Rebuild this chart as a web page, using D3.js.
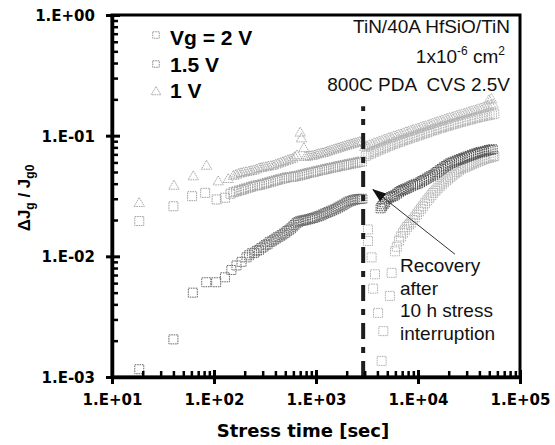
<!DOCTYPE html>
<html>
<head>
<meta charset="utf-8">
<script src="https://cdn.jsdelivr.net/npm/d3@7"></script>
<style>
  html, body { margin: 0; padding: 0; background: #fff; }
  svg { display: block; }
</style>
</head>
<body>
<svg id="chart" width="555" height="445"></svg>
<script>
// ---- axis ticks ----
const xTickValues = [1e1, 1e2, 1e3, 1e4, 1e5];
const xTickLabels = ["1.E+01", "1.E+02", "1.E+03", "1.E+04", "1.E+05"];
const yTickValues = [1e-3, 1e-2, 1e-1, 1e0];
const yTickLabels = ["1.E-03", "1.E-02", "1.E-01", "1.E+00"];

// ---- first stress period (before the 10 h interruption) ----
// Vg = 2 V
const time2V = [18.5, 40, 62, 84, 105, 128, 148, 166, 186,
  208, 220, 235, 248, 262, 276, 290, 305, 320, 335, 350, 367, 385, 402, 420, 440, 460, 480, 500, 522,
  545, 567, 590, 615, 640, 665, 690, 717, 745, 772, 800, 835, 870, 905, 940, 980, 1020, 1065, 1110, 1160,
  1210, 1265, 1320, 1380, 1440, 1505, 1570, 1640, 1710, 1785, 1860, 1945, 2030, 2120, 2210, 2300, 2400, 2510, 2620, 2730, 2850];
const dj2V = [1.16e-3, 2.05e-3, 5.0e-3, 6.1e-3, 6.1e-3, 6.7e-3, 7.7e-3, 8.4e-3, 9.0e-3,
  9.8e-3, 1.02e-2, 1.06e-2, 1.07e-2, 1.11e-2, 1.13e-2, 1.17e-2, 1.20e-2, 1.24e-2, 1.26e-2, 1.31e-2, 1.33e-2, 1.37e-2, 1.40e-2, 1.44e-2, 1.46e-2, 1.50e-2, 1.54e-2, 1.57e-2, 1.62e-2,
  1.66e-2, 1.70e-2, 1.76e-2, 1.82e-2, 1.88e-2, 1.92e-2, 1.95e-2, 1.97e-2, 1.98e-2, 1.99e-2, 2.01e-2, 2.02e-2, 2.04e-2, 2.06e-2, 2.08e-2, 2.10e-2, 2.13e-2, 2.15e-2, 2.18e-2, 2.22e-2,
  2.26e-2, 2.29e-2, 2.33e-2, 2.36e-2, 2.40e-2, 2.44e-2, 2.48e-2, 2.53e-2, 2.58e-2, 2.63e-2, 2.68e-2, 2.74e-2, 2.80e-2, 2.85e-2, 2.88e-2, 2.92e-2, 2.95e-2, 2.97e-2, 2.98e-2, 2.99e-2, 3.0e-2];

// Vg = 1.5 V
const time15V = [18.5, 40, 61, 82, 106, 128,
  145, 155, 165, 175, 185, 195, 205, 216, 228, 240, 252, 266, 280, 295, 310, 327, 345, 362, 380, 400,
  420, 442, 465, 490, 515, 542, 570, 600, 630, 665, 700, 735, 770, 810, 850, 895, 940, 990, 1040, 1095,
  1150, 1210, 1270, 1335, 1400, 1475, 1550, 1630, 1710, 1800, 1890, 1990, 2090, 2200, 2310, 2430, 2550, 2680, 2820];
const dj15V = [0.0196, 0.026, 0.0315, 0.0336, 0.0296, 0.0306,
  0.033, 0.034, 0.0345, 0.035, 0.0355, 0.036, 0.0365, 0.037, 0.0375, 0.038, 0.0385, 0.0388, 0.039, 0.0395, 0.040, 0.0405, 0.041, 0.0415, 0.042, 0.0425,
  0.043, 0.0435, 0.044, 0.0445, 0.045, 0.0452, 0.0455, 0.0458, 0.046, 0.0465, 0.047, 0.0475, 0.048, 0.0485, 0.049, 0.0495, 0.050, 0.0505, 0.051, 0.0515,
  0.052, 0.0525, 0.053, 0.0535, 0.054, 0.0545, 0.055, 0.0555, 0.056, 0.0565, 0.057, 0.0575, 0.058, 0.0585, 0.059, 0.0595, 0.060, 0.0605, 0.061];

// Vg = 1 V
const time1V = [18.5, 40.5, 62.7, 84.5, 110, 138,
  155, 165, 175, 185, 195, 207, 220, 232, 245, 260, 275, 290, 305, 322, 340, 360, 380, 402, 425, 450,
  475, 502, 530, 560, 590, 620, 650, 700, 720, 760, 790, 830, 870, 915, 960, 1010, 1060, 1115, 1170, 1230,
  1290, 1355, 1420, 1495, 1570, 1650, 1730, 1820, 1910, 2005, 2100, 2210, 2320, 2440, 2560, 2690, 2830];
const dj1V = [0.0274, 0.0381, 0.0456, 0.0558, 0.0414, 0.0433,
  0.046, 0.047, 0.048, 0.0485, 0.049, 0.0495, 0.050, 0.0505, 0.051, 0.052, 0.053, 0.0535, 0.054, 0.0545, 0.055, 0.0555, 0.056, 0.057, 0.058, 0.059,
  0.060, 0.061, 0.062, 0.063, 0.064, 0.066, 0.068, 0.105, 0.094, 0.078, 0.066, 0.0665, 0.067, 0.0675, 0.068, 0.069, 0.070, 0.0705, 0.071, 0.072,
  0.073, 0.074, 0.075, 0.076, 0.077, 0.078, 0.079, 0.080, 0.081, 0.082, 0.083, 0.084, 0.085, 0.086, 0.087, 0.088, 0.089];

// ---- second stress period (after recovery) ----
const time1VPost = [3000, 3170, 3350, 3540, 3740, 3950, 4170, 4400, 4650, 4910, 5190, 5480, 5790, 6120, 6460,
  6830, 7210, 7620, 8050, 8500, 8980, 9490, 10000, 10600, 11200, 11800, 12500, 13200, 13900, 14700,
  15500, 16400, 17300, 18300, 19300, 20400, 21600, 22800, 24000, 25400, 26800, 28300, 29900, 31600, 33400,
  35200, 37200, 39300, 41500, 43900, 46300, 48900, 51700, 54600, 49500, 52500];
const dj1VPost = [0.080, 0.081, 0.083, 0.084, 0.086, 0.087, 0.089, 0.090, 0.092, 0.093, 0.095, 0.096, 0.098, 0.099, 0.101,
  0.102, 0.104, 0.106, 0.107, 0.109, 0.111, 0.112, 0.114, 0.116, 0.118, 0.119, 0.121, 0.123, 0.125, 0.127,
  0.129, 0.131, 0.133, 0.135, 0.137, 0.139, 0.141, 0.143, 0.145, 0.147, 0.149, 0.151, 0.153, 0.156, 0.158,
  0.160, 0.162, 0.165, 0.167, 0.170, 0.172, 0.175, 0.178, 0.180, 0.195, 0.200];

const time15VPost = [3080, 3260, 3450, 3640, 3850, 4060, 4290, 4530, 4780, 5050, 5330, 5630, 5950, 6290, 6640,
  7020, 7410, 7830, 8270, 8740, 9230, 9750, 10300, 10900, 11500, 12200, 12800, 13500, 14300, 15100,
  16000, 16900, 17800, 18800, 19900, 21000, 22200, 23400, 24700, 26100, 27600, 29100, 30700, 32500, 34300,
  36200, 38200, 40400, 42700, 45100, 47600, 50300, 53100, 56000];
const dj15VPost = [0.068, 0.070, 0.071, 0.073, 0.074, 0.076, 0.077, 0.079, 0.080, 0.082, 0.083, 0.085, 0.086, 0.088, 0.089,
  0.091, 0.092, 0.094, 0.095, 0.097, 0.098, 0.100, 0.101, 0.103, 0.105, 0.106, 0.108, 0.110, 0.111, 0.113,
  0.115, 0.116, 0.118, 0.120, 0.121, 0.123, 0.125, 0.126, 0.128, 0.130, 0.131, 0.133, 0.135, 0.136, 0.138,
  0.140, 0.141, 0.143, 0.144, 0.146, 0.147, 0.149, 0.150, 0.152];

const timeMidPost = [4300, 4450, 4600, 4760, 4930, 5150, 5400, 5650, 5900, 6200, 6500, 6800, 7100, 7400, 7730,
  8100, 8500, 8950, 9400, 9900, 10460, 10950, 11500, 12100, 12700, 13300, 14000, 14700, 15400, 16200,
  17000, 17800, 18700, 19600, 20600, 21600, 22700, 23800, 25000, 26200, 27500, 28900, 30300, 31800, 33400,
  35100, 36800, 38600, 40500, 42500, 44600, 46800, 49100, 51500, 54000];
const djMidPost = [0.025, 0.026, 0.027, 0.028, 0.0296, 0.0303, 0.031, 0.0315, 0.032, 0.033, 0.034, 0.0348, 0.0355, 0.036, 0.0365,
  0.0372, 0.038, 0.0388, 0.0395, 0.040, 0.041, 0.042, 0.043, 0.044, 0.045, 0.046, 0.047, 0.0485, 0.050, 0.0515,
  0.053, 0.0545, 0.056, 0.0575, 0.059, 0.060, 0.061, 0.062, 0.063, 0.064, 0.065, 0.066, 0.067, 0.068, 0.069,
  0.070, 0.071, 0.072, 0.073, 0.0735, 0.074, 0.075, 0.076, 0.0765, 0.077];

const timeLowPost = [3230, 3230, 3510, 3630, 3790, 4060, 4400, 4570, 5300, 5520,
  5960, 6200, 6500, 6800, 7130, 7450, 7800, 8150, 8500, 8900, 9300, 9750, 10200, 10700, 11200,
  11700, 12300, 12900, 13500, 14100, 14800, 15500, 16300, 17100, 17900, 18800, 19700, 20700, 21700, 22800,
  23900, 25100, 26300, 27600, 29000, 30500, 32000, 33600, 35200, 37000, 38800, 40700, 42700, 44800, 47000,
  49300, 51700, 54200, 56000];
const djLowPost = [0.0167, 0.0134, 0.0098, 0.0054, 0.0071, 0.0034, 0.00136, 0.0024, 0.0047, 0.0073,
  0.011, 0.012, 0.0135, 0.0146, 0.0157, 0.0166, 0.0175, 0.0183, 0.019, 0.020, 0.021, 0.0222, 0.0235, 0.0248, 0.026,
  0.0275, 0.029, 0.0305, 0.032, 0.0335, 0.035, 0.0365, 0.038, 0.0395, 0.041, 0.0425, 0.044, 0.0455, 0.047, 0.0485,
  0.050, 0.0515, 0.053, 0.054, 0.055, 0.056, 0.057, 0.058, 0.059, 0.060, 0.061, 0.062, 0.063, 0.064, 0.065,
  0.0655, 0.066, 0.067, 0.068];

// stress interruption time and the recovery arrow (data coordinates)
const interruptTime = 2900;
const interruptSpan = [1e-3, 0.175];
const arrowTail = [23050, 0.0104];
const arrowTip = [3620, 0.0358];

// ---- layout ----
const svg = d3.select("#chart");
const plot = { left: 112, right: 520, top: 15, bottom: 377 };
const x = d3.scaleLog().domain([1e1, 1e5]).range([plot.left, plot.right]);
const y = d3.scaleLog().domain([1e-3, 1]).range([plot.bottom, plot.top]);

const boldTick = "'DejaVu Sans', sans-serif";
const sans = "'Liberation Sans', Arial, sans-serif";

// minor tick positions 2..9 inside each decade
const minorOf = (majors) => {
  const out = [];
  for (let i = 0; i < majors.length - 1; i++)
    for (let k = 2; k <= 9; k++) out.push(majors[i] * k);
  return out;
};

// ---- data series ----
const seriesList = [
  { key: "low",  t: timeLowPost, v: djLowPost, shape: "square" },
  { key: "s15",  t: time15V, v: dj15V, shape: "square" },
  { key: "s1",   t: time1V, v: dj1V, shape: "triangle" },
  { key: "s15p", t: time15VPost, v: dj15VPost, shape: "square" },
  { key: "s1p",  t: time1VPost, v: dj1VPost, shape: "triangle" },
  { key: "s2",   t: time2V, v: dj2V, shape: "square" },
  { key: "mid",  t: timeMidPost, v: djMidPost, shape: "square" }
];
const seriesStyle = {
  low:  { stroke: "#b0b0b0" },
  s15:  { stroke: "#a0a0a0" },
  s1:   { stroke: "#a8a8a8" },
  s15p: { stroke: "#b4b4b4" },
  s1p:  { stroke: "#b4b4b4" },
  s2:   { stroke: "#6a6a6a" },
  mid:  { stroke: "#4e4e4e" }
};
const squareSym = d3.symbol().type(d3.symbolSquare).size(81);
const triSym = d3.symbol().type(d3.symbolTriangle).size(46);

const marks = svg.append("g");
seriesList.forEach(s => {
  const pts = s.t.map((t, i) => [t, s.v[i]]);
  marks.append("g")
    .selectAll("path")
    .data(pts)
    .join("path")
    .attr("d", s.shape === "square" ? squareSym : triSym)
    .attr("transform", d => `translate(${x(d[0])},${y(d[1])})`)
    .attr("fill", "none")
    .attr("stroke", seriesStyle[s.key].stroke)
    .attr("stroke-width", 1)
    .attr("stroke-dasharray", "1.6 0.8");
});

// ---- interruption line ----
svg.append("line")
  .attr("x1", x(interruptTime)).attr("x2", x(interruptTime))
  .attr("y1", y(interruptSpan[0])).attr("y2", y(interruptSpan[1]))
  .attr("stroke", "#1e1e1e")
  .attr("stroke-width", 4)
  .attr("stroke-dasharray", "16 8 6 8");

// ---- frame ----
svg.append("rect")
  .attr("x", plot.left).attr("y", plot.top)
  .attr("width", plot.right - plot.left).attr("height", plot.bottom - plot.top)
  .attr("fill", "none").attr("stroke", "#000").attr("stroke-width", 3);

// ---- axes ----
const xAxis = svg.append("g")
  .attr("transform", `translate(0,${plot.bottom})`)
  .call(d3.axisBottom(x).tickValues(xTickValues).tickFormat((d, i) => xTickLabels[i]).tickSize(7).tickSizeOuter(0));
xAxis.select(".domain").attr("stroke-width", 3.5);
xAxis.selectAll(".tick line").attr("y1", -7).attr("y2", 7).attr("stroke-width", 3);
xAxis.selectAll(".tick text")
  .attr("y", 28).attr("dy", null)
  .attr("font-family", boldTick).attr("font-weight", "bold").attr("font-size", 15).attr("fill", "#000");

const xMinor = svg.append("g")
  .attr("transform", `translate(0,${plot.bottom})`)
  .call(d3.axisBottom(x).tickValues(minorOf(xTickValues)).tickFormat("").tickSize(-6).tickSizeOuter(0));
xMinor.select(".domain").remove();
xMinor.selectAll(".tick line").attr("stroke-width", 2.5);

const yAxis = svg.append("g")
  .attr("transform", `translate(${plot.left},0)`)
  .call(d3.axisLeft(y).tickValues(yTickValues).tickFormat((d, i) => yTickLabels[i]).tickSize(7).tickSizeOuter(0));
yAxis.select(".domain").attr("stroke-width", 3.5);
yAxis.selectAll(".tick line").attr("x1", -6).attr("x2", 8).attr("stroke-width", 3);
yAxis.selectAll(".tick text")
  .attr("x", -17).attr("dy", "0.36em")
  .attr("font-family", boldTick).attr("font-weight", "bold").attr("font-size", 15).attr("fill", "#000");

const yMinor = svg.append("g")
  .attr("transform", `translate(${plot.left},0)`)
  .call(d3.axisLeft(y).tickValues(minorOf(yTickValues)).tickFormat("").tickSize(-6).tickSizeOuter(0));
yMinor.select(".domain").remove();
yMinor.selectAll(".tick line").attr("stroke-width", 2.5);

// ---- axis titles ----
svg.append("text")
  .attr("x", 303).attr("y", 437)
  .attr("text-anchor", "middle")
  .attr("font-family", boldTick).attr("font-weight", "bold").attr("font-size", 18)
  .text("Stress time [sec]");

const yTitle = svg.append("text")
  .attr("transform", "translate(30,198) rotate(-90)")
  .attr("text-anchor", "middle")
  .attr("font-family", sans).attr("font-weight", "bold").attr("font-size", 17);
yTitle.append("tspan").text("ΔJ");
yTitle.append("tspan").attr("font-size", 12).attr("dy", 4).text("g");
yTitle.append("tspan").attr("dy", -4).text(" / J");
yTitle.append("tspan").attr("font-size", 12).attr("dy", 4).text("g0");

// ---- legend ----
const legendRows = [
  { label: "Vg = 2 V", shape: "square", stroke: "#9a9a9a", my: 35, ty: 45 },
  { label: "1.5 V", shape: "square", stroke: "#8a8a8a", my: 64, ty: 72 },
  { label: "1 V", shape: "triangle", stroke: "#a8a8a8", my: 92, ty: 98 }
];
const legend = svg.append("g");
legendRows.forEach(r => {
  legend.append("path")
    .attr("d", r.shape === "square" ? d3.symbol().type(d3.symbolSquare).size(42)() : d3.symbol().type(d3.symbolTriangle).size(40)())
    .attr("transform", `translate(156,${r.my})`)
    .attr("fill", "none").attr("stroke", r.stroke).attr("stroke-width", 1)
    .attr("stroke-dasharray", "1.6 0.8");
  legend.append("text")
    .attr("x", 170).attr("y", r.ty)
    .attr("font-family", sans).attr("font-weight", "bold").attr("font-size", 21)
    .text(r.label);
});

// ---- device notes ----
const notes = svg.append("g")
  .attr("font-family", sans).attr("font-size", 19).attr("text-anchor", "end").attr("fill", "#111");
notes.append("text").attr("x", 510).attr("y", 33).text("TiN/40A HfSiO/TiN");
const area = notes.append("text").attr("x", 505).attr("y", 63);
area.append("tspan").text("1x10");
area.append("tspan").attr("font-size", 12).attr("dy", -8).text("-6");
area.append("tspan").attr("dy", 8).text(" cm");
area.append("tspan").attr("font-size", 12).attr("dy", -8).text("2");
notes.append("text").attr("x", 510).attr("y", 91).attr("xml:space", "preserve")
  .style("white-space", "pre").text("800C PDA  CVS 2.5V");

// ---- recovery annotation ----
svg.append("defs").append("marker")
  .attr("id", "head").attr("markerUnits", "userSpaceOnUse")
  .attr("viewBox", "0 0 14 10").attr("refX", 13).attr("refY", 5)
  .attr("markerWidth", 14).attr("markerHeight", 10).attr("orient", "auto")
  .append("path").attr("d", "M0,0 L14,5 L0,10 Z").attr("fill", "#111");
svg.append("line")
  .attr("x1", x(arrowTail[0])).attr("y1", y(arrowTail[1]))
  .attr("x2", x(arrowTip[0])).attr("y2", y(arrowTip[1]))
  .attr("stroke", "#333").attr("stroke-width", 1)
  .attr("marker-end", "url(#head)");

const noteLines = ["Recovery", "after", "10 h stress", "interruption"];
svg.append("g")
  .attr("font-family", sans).attr("font-size", 19).attr("fill", "#111")
  .selectAll("text").data(noteLines).join("text")
  .attr("x", 400).attr("y", (d, i) => 272 + i * 22.5)
  .text(d => d);
</script>
</body>
</html>
